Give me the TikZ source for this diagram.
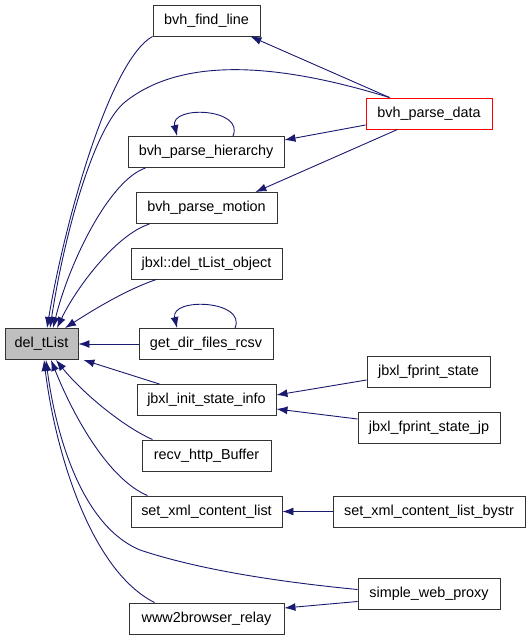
\documentclass[tikz,border=0pt]{standalone}
\usepackage{fontspec}
\setmainfont{Liberation Sans}
\usepackage{xcolor}
\usetikzlibrary{arrows.meta}
\definecolor{edgeblue}{HTML}{191970}
\tikzset{
  fn/.style={draw=black!80, line width=0.9pt, fill=white, inner sep=0pt,
    minimum height=31pt, font=\fontsize{14.4}{17}\selectfont},
  call/.style={draw=edgeblue, line width=0.9pt,
    arrows = {-Latex[length=11pt, width=8pt, color=edgeblue]}},
}

\begin{document}
\begin{tikzpicture}[x=1pt,y=-1pt]
\useasboundingbox (0,0) rectangle (531,640);
\node[fn, fill=black!25, minimum width=73pt] (del) at (41.5,344) {del\_tList};
\node[fn, minimum width=107pt] (findline) at (206.5,20.5) {bvh\_find\_line};
\node[fn, draw=red, minimum width=126pt] (pdata) at (429,113.5) {bvh\_parse\_data};
\node[fn, minimum width=156pt] (hier) at (206,152) {bvh\_parse\_hierarchy};
\node[fn, minimum width=141pt] (motion) at (206.5,208) {bvh\_parse\_motion};
\node[fn, minimum width=151pt] (dobj) at (206.5,263.5) {jbxl::del\_tList\_object};
\node[fn, minimum width=134pt] (getdir) at (206,344) {get\_dir\_files\_rcsv};
\node[fn, minimum width=139pt] (init) at (206.5,400) {jbxl\_init\_state\_info};
\node[fn, minimum width=129pt] (recv) at (206.5,455.5) {recv\_http\_Buffer};
\node[fn, minimum width=151pt] (setxml) at (206.5,511.5) {set\_xml\_content\_list};
\node[fn, minimum width=155pt] (www) at (206.5,618.5) {www2browser\_relay};
\node[fn, minimum width=123pt] (fstate) at (428.5,371.5) {jbxl\_fprint\_state};
\node[fn, minimum width=142pt] (fstatejp) at (429,428) {jbxl\_fprint\_state\_jp};
\node[fn, minimum width=192pt] (bystr) at (429,511.5) {set\_xml\_content\_list\_bystr};
\node[fn, minimum width=142pt] (proxy) at (429,593.5) {simple\_web\_proxy};
% callers of del_tList
\draw[call] (findline.south west) .. controls (110,60) and (65,220) .. ([xshift=5.5pt]del.north);
\draw[call] ([xshift=24pt]pdata.north west) .. controls (300,70) and (190,50) .. (125,102)
  .. controls (95,126) and (65,230) .. ([xshift=8.5pt]del.north);
\draw[call] ([xshift=18pt]hier.south west) .. controls (110,180) and (70,260) .. ([xshift=11.5pt]del.north);
\draw[call] ([xshift=14pt]motion.south west) .. controls (115,235) and (75,290) .. ([xshift=15.5pt]del.north);
\draw[call] ([xshift=26pt]dobj.south west) .. controls (125,290) and (90,312) .. ([xshift=23.5pt]del.north);
\draw[call] (getdir.west) -- (del.east);
\draw[call] ([xshift=23pt]init.north west) -- ([xshift=5pt]del.south east);
\draw[call] ([xshift=11pt]recv.north west) .. controls (120,425) and (80,390) .. ([xshift=14.5pt]del.south);
\draw[call] ([xshift=17pt]setxml.north west) .. controls (110,480) and (75,420) .. ([xshift=9.5pt]del.south);
\draw[call] ([yshift=4pt]proxy.west) .. controls (280,582) and (200,570) .. (140,550)
  .. controls (80,525) and (55,430) .. ([xshift=4.5pt]del.south);
\draw[call] ([xshift=26pt]www.north west) .. controls (90,570) and (55,450) .. ([xshift=2.5pt]del.south);
% other calls
\draw[call] ([xshift=24pt]pdata.north west) -- ([xshift=-10pt]findline.south east);
\draw[call] ([yshift=-11.5pt]pdata.west) -- ([yshift=12pt]hier.east);
\draw[call] ([xshift=32pt]pdata.south west) -- ([xshift=-22pt]motion.north east);
\draw[call] ([xshift=27pt]hier.north) .. controls (245,108) and (170,105) .. ([xshift=-29pt]hier.north);
\draw[call] ([xshift=29pt]getdir.north) .. controls (247,300) and (170,297) .. ([xshift=-29pt]getdir.north);
\draw[call] ([yshift=-8.5pt]fstate.west) -- ([yshift=5pt]init.east);
\draw[call] ([yshift=9pt]fstatejp.west) -- ([yshift=-9pt]init.east);
\draw[call] (bystr.west) -- (setxml.east);
\draw[call] ([yshift=-8pt]proxy.west) -- ([yshift=10.5pt]www.east);
\end{tikzpicture}
\end{document}
